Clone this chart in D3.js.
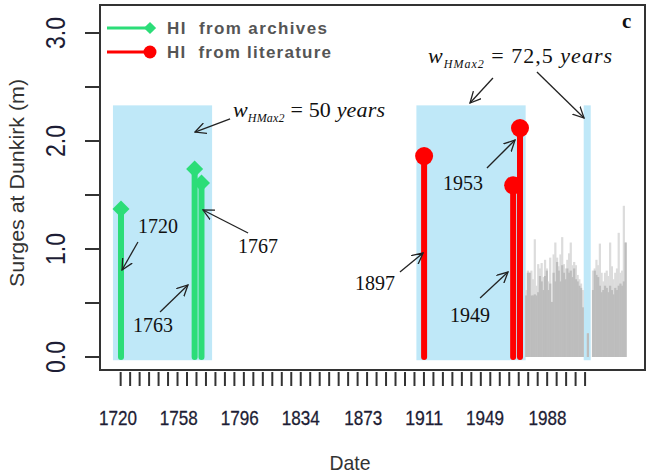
<!DOCTYPE html>
<html>
<head>
<meta charset="utf-8">
<script src="https://cdn.jsdelivr.net/npm/d3@7"></script>
<style>
body{margin:0;background:#fff;}
text{font-family:"Liberation Sans",Arial,sans-serif;}
.serif{font-family:"Liberation Serif","Times New Roman",serif;}
</style>
</head>
<body>
<svg id="chart" width="648" height="475"></svg>
<script>
// DATA
// historical information (HI) surges at Dunkirk, in metres
const archiveYears = [1720, 1763, 1767];
const archiveSurges = [1.37, 1.74, 1.61];
const literatureYears = [1897, 1949, 1953];
const literatureSurges = [1.86, 1.59, 2.12];

// systematic record, one bar per year (light = high value, dark = low value)
const recordYears = [1956,1957,1958,1959,1960,1961,1962,1963,1964,1965,1966,1967,
	1968,1969,1970,1971,1972,1973,1974,1975,1976,1977,1978,1979,1980,1981,1982,
	1983,1984,1985,1986,1987,1988,1989,1992,1995,1996,1997,1998,1999,2000,2001,
	2002,2003,2004,2005,2006,2007,2008,2009,2010,2011,2012,2013,2014];
const recordHigh = [0.62,0.80,0.78,0.80,0.72,1.09,0.66,0.86,0.82,0.87,0.74,0.90,
	0.82,0.70,0.92,0.51,0.95,1.06,0.92,0.84,0.95,1.11,0.86,0.82,0.90,0.96,1.06,
	0.85,0.88,0.85,0.76,0.72,0.68,0.62,0.22,0.80,0.82,0.90,0.85,1.05,0.78,0.70,
	0.78,0.80,0.75,1.06,0.84,0.72,0.78,0.82,1.15,0.78,0.80,1.40,1.06];
const recordLow = [0.57,0.78,0.78,0.57,0.57,0.58,0.57,0.60,0.75,0.70,0.62,0.75,
	0.80,0.62,0.68,0.51,0.78,0.70,0.88,0.80,0.70,0.85,0.78,0.72,0.82,0.78,0.80,
	0.74,0.82,0.72,0.70,0.66,0.64,0.46,0.22,0.62,0.80,0.76,0.74,0.66,0.60,0.62,
	0.66,0.64,0.60,0.66,0.62,0.58,0.64,0.62,0.66,0.68,0.66,0.70,1.06];

// w_HMax2 windows
const windowStarts = [1715.3, 1892.5, 1990.2];
const windowEnds = [1773.2, 1956.3, 1994.3];
const windowTop = 2.33;

// axes
const xTickLabels = ['1720','1758','1796','1834','1873','1911','1949','1988'];
const xMinorCount = 50;
const yTickValues = [0, 0.5, 1, 1.5, 2, 2.5, 3];
const yTickLabels = ['0.0', '1.0', '2.0', '3.0'];

// colours
const green = '#2cdd78';
const red = '#ff0000';
const blue = '#bfe8f8';
const lightGrey = '#dcdcdc';
const darkGrey = '#bdbdbd';
const ink = '#222';

// SCALES
const svg = d3.select('#chart');
const x = d3.scaleLinear().domain([1720, 1953]).range([121, 520]);
const y = d3.scaleLinear().domain([0, 3]).range([357, 33]);
// the printed date labels do not sit on their own years in the original
const xLabelPos = d3.scaleLinear().domain([1720, 1988]).range([x(1718.2), x(1969.1)]);

const box = {left: 100, right: 645, top: 5, bottom: 370};

let defs = svg.append('defs');
defs.append('marker').attr('id','arr')
	.attr('viewBox','0 0 12 12').attr('refX',11).attr('refY',6)
	.attr('markerWidth',12).attr('markerHeight',12)
	.attr('markerUnits','userSpaceOnUse').attr('orient','auto')
	.append('path').attr('d','M0,0.5 L11,6 L0,11.5')
	.attr('fill','none').attr('stroke',ink).attr('stroke-width',1.3);

// windows
svg.append('g').selectAll('rect').data(windowStarts).enter().append('rect')
	.attr('x', d => x(d))
	.attr('width', (d,i) => x(windowEnds[i]) - x(d))
	.attr('y', y(windowTop))
	.attr('height', y(-0.03) - y(windowTop))
	.attr('fill', blue);

// yearly record bars (a little overlap so no hairline gaps show)
let bars = svg.append('g');
bars.selectAll('rect.hi').data(recordYears).enter().append('rect').attr('class','hi')
	.attr('x', d => x(d)).attr('width', d => x(d+1) - x(d) + 0.5)
	.attr('y', (d,i) => y(recordHigh[i]))
	.attr('height', (d,i) => y(0) - y(recordHigh[i]))
	.attr('fill', lightGrey);
bars.selectAll('rect.lo').data(recordYears).enter().append('rect').attr('class','lo')
	.attr('x', d => x(d)).attr('width', d => x(d+1) - x(d) + 0.5)
	.attr('y', (d,i) => y(recordLow[i]))
	.attr('height', (d,i) => y(0) - y(recordLow[i]))
	.attr('fill', darkGrey);

// stems
function drawStems(years, surges, colour, shape){
	let g = svg.append('g');
	g.selectAll('line').data(years).enter().append('line')
		.attr('x1', d => x(d)).attr('x2', d => x(d))
		.attr('y1', y(0)).attr('y2', (d,i) => y(surges[i]))
		.attr('stroke', colour).attr('stroke-width', 6).attr('stroke-linecap','round');
	g.selectAll('path').data(years).enter().append('path')
		.attr('transform', (d,i) => 'translate('+x(d)+','+y(surges[i])+')')
		.attr('d', shape)
		.attr('fill', colour);
}
const diamond = 'M0,-8.5 L8.5,0 L0,8.5 L-8.5,0 Z';
const circle = d3.symbol().type(d3.symbolCircle).size(Math.PI*81)();
drawStems(archiveYears, archiveSurges, green, diamond);
drawStems(literatureYears, literatureSurges, red, circle);

// plot frame
svg.append('rect').attr('x', box.left).attr('y', box.top)
	.attr('width', box.right - box.left).attr('height', box.bottom - box.top)
	.attr('fill','none').attr('stroke','#333').attr('stroke-width',2);

// y axis
let yAxis = svg.append('g');
yAxis.selectAll('line').data(yTickValues).enter().append('line')
	.attr('x1', box.left - 15).attr('x2', box.left)
	.attr('y1', d => y(d)).attr('y2', d => y(d))
	.attr('stroke','#333').attr('stroke-width',2);
yAxis.selectAll('text').data(yTickLabels).enter().append('text')
	.attr('transform', d => 'translate(65,'+y(+d)+') rotate(-90)')
	.attr('text-anchor','middle')
	.attr('font-size',28).attr('textLength',32).attr('lengthAdjust','spacingAndGlyphs')
	.attr('fill','#1d1d35').text(d => d);
svg.append('text')
	.attr('transform','translate(24,183) rotate(-90)')
	.attr('text-anchor','middle').attr('font-size',21)
	.attr('textLength',208).attr('lengthAdjust','spacingAndGlyphs')
	.attr('fill','#333').text('Surges at Dunkirk (m)');

// x axis
const minorScale = d3.scaleLinear().domain([0, xMinorCount-1]).range([x(1719.8), x(1991)]);
let xAxis = svg.append('g');
xAxis.selectAll('line').data(d3.range(xMinorCount)).enter().append('line')
	.attr('x1', d => minorScale(d)).attr('x2', d => minorScale(d))
	.attr('y1', box.bottom + 2).attr('y2', box.bottom + 16)
	.attr('stroke','#333').attr('stroke-width',2);
xAxis.selectAll('text').data(xTickLabels).enter().append('text')
	.attr('x', d => xLabelPos(+d)).attr('y', 425)
	.attr('text-anchor','middle').attr('font-size',21)
	.attr('textLength',38).attr('lengthAdjust','spacingAndGlyphs')
	.attr('fill','#1d1d35').attr('stroke','#1d1d35').attr('stroke-width',0.3)
	.text(d => d);
svg.append('text').attr('x',350).attr('y',470)
	.attr('text-anchor','middle').attr('font-size',21)
	.attr('textLength',41).attr('lengthAdjust','spacingAndGlyphs')
	.attr('fill','#333').text('Date');

// legend
const legendItems = [
	{label:'HI\u00a0\u00a0from archives', colour:green, shape:diamond, width:160},
	{label:'HI\u00a0\u00a0from literature', colour:red, shape:circle, width:164}
];
let legend = svg.append('g').selectAll('g').data(legendItems).enter().append('g')
	.attr('transform', (d,i) => 'translate(0,'+(28 + i*24)+')');
legend.append('line').attr('x1',107).attr('x2',150).attr('y1',0).attr('y2',0)
	.attr('stroke', d => d.colour).attr('stroke-width',3);
legend.append('path').attr('d', d => d.shape)
	.attr('transform', 'translate(150,0) scale(0.72)')
	.attr('fill', d => d.colour);
legend.append('text').attr('x',167).attr('y',6)
	.attr('font-size',17).attr('font-weight','bold').attr('fill','#555')
	.attr('textLength', d => d.width).attr('lengthAdjust','spacing')
	.text(d => d.label);

// panel letter
svg.append('text').attr('class','serif')
	.attr('x', box.right - 23).attr('y', box.top + 23)
	.attr('font-size',21).attr('font-weight','bold').attr('fill','#111')
	.text('c');

// annotations, in data units (year, surge)
const notes = [
	{text:'1720', at:[1729.9,1.148], from:[1729.9,1.065], to:[1720.6,0.806]},
	{text:'1763', at:[1727.0,0.231], from:[1742.8,0.417], to:[1759.1,0.667]},
	{text:'1767', at:[1788.3,0.963], from:[1794.2,1.148], to:[1767.9,1.361]},
	{text:'1897', at:[1856.7,0.620], from:[1882.9,0.787], to:[1896.4,0.963]},
	{text:'1953', at:[1908.0,1.546], from:[1933.7,1.750], to:[1950.1,2.009]},
	{text:'1949', at:[1912.1,0.324], from:[1929.7,0.546], to:[1946.0,0.787]}
];
let noteG = svg.append('g');
noteG.selectAll('text').data(notes).enter().append('text').attr('class','serif')
	.attr('x', d => x(d.at[0])).attr('y', d => y(d.at[1]))
	.attr('font-size',20).attr('fill','#111').text(d => d.text);

const windowNotes = [
	{value:'50', at:[1785.4,2.222], width:152, arrows:[[[1783.7,2.204],[1763.2,2.083]]]},
	{value:'72,5', at:[1899.3,2.722], width:184, arrows:[[[1937.2,2.583],[1923.8,2.352]],
		[[1962.9,2.639],[1990.4,2.213]]]}
];
windowNotes.forEach(function(n){
	let t = noteG.append('text').attr('class','serif')
		.attr('x', x(n.at[0])).attr('y', y(n.at[1]))
		.attr('font-size',22).attr('fill','#111')
		.attr('textLength', n.width).attr('lengthAdjust','spacing');
	t.append('tspan').attr('font-style','italic').text('w');
	t.append('tspan').attr('font-style','italic').attr('font-size',12)
		.attr('dy',5).text('HMax2');
	t.append('tspan').attr('dy',-5).text('\u00a0=\u00a0'+n.value+'\u00a0');
	t.append('tspan').attr('font-style','italic').text('years');
	n.arrows.forEach(a => notes.push({from:a[0], to:a[1]}));
});

noteG.selectAll('line').data(notes).enter().append('line')
	.attr('x1', d => x(d.from[0])).attr('y1', d => y(d.from[1]))
	.attr('x2', d => x(d.to[0])).attr('y2', d => y(d.to[1]))
	.attr('stroke',ink).attr('stroke-width',1.3)
	.attr('marker-end','url(#arr)');
</script>
</body>
</html>
